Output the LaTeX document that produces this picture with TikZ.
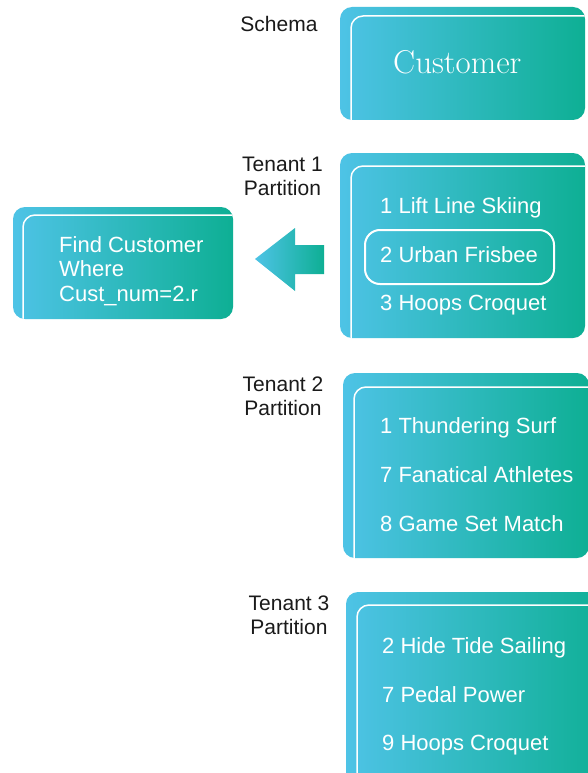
\documentclass[tikz,border=0pt]{standalone}
\usepackage{fontspec}
\setmainfont{Liberation Sans}
\newfontfamily\slabfont{Latin Modern Roman}
\definecolor{cblue}{RGB}{78,195,230}
\definecolor{cgreen}{RGB}{14,175,148}
\definecolor{ink}{RGB}{26,26,26}
\tikzset{
  grad/.style={left color=cblue, right color=cgreen},
  rim/.style={draw=white, line width=1.5pt, rounded corners=12pt},
  itemtext/.style={anchor=base west, inner sep=0pt, text=white,
    font=\fontsize{22}{24.5}\selectfont},
  sidelabel/.style={anchor=base, inner sep=0pt, align=center, text=ink,
    font=\fontsize{21}{23.5}\selectfont},
  pick/.style={draw=white, line width=2pt, rounded corners=15pt}
}
% gradient panel with an inset white rim, clipped to the panel
\newcommand\panel[6]{%
  \shade[grad, rounded corners=12pt] (#1,#2) rectangle (#3,#4);
  \begin{scope}
    \clip[rounded corners=12pt] (#1,#2) rectangle (#3,#4);
    \draw[rim] (#1+#5,#2+#6) rectangle (#3+40,#4+40);
  \end{scope}}
\begin{document}
\begin{tikzpicture}[x=1pt, y=-1pt]
  \clip (0,0) rectangle (588,773);
  \fill[white] (0,0) rectangle (588,773);

  % panels
  \panel{340}{7}{585}{120}{11}{9}
  \panel{340}{153}{585}{338}{11}{13}
  \panel{13}{207}{233}{319}{10}{8}
  \panel{343}{373}{589}{558}{11}{14}
  \panel{346}{592}{610}{800}{11}{13}

  % side labels (anchored on the last line's baseline)
  \node[sidelabel] (lschema) at (279,32) {Schema};
  \node[sidelabel] (lt1) at (282.5,195) {Tenant 1\\Partition};
  \node[sidelabel] (lt2) at (283,415) {Tenant 2\\Partition};
  \node[sidelabel] (lt3) at (289,634) {Tenant 3\\Partition};

  % schema
  \node[anchor=base west, inner sep=0pt, text=white,
        font=\slabfont\fontsize{33}{33}\selectfont] (cust) at (393,74) {Customer};

  % tenant 1
  \node[itemtext] (a1) at (380,213) {1 Lift Line Skiing};
  \node[itemtext] (a2) at (380,262) {2 Urban Frisbee};
  \node[itemtext] (a3) at (380,310) {3 Hoops Croquet};
  \draw[pick] (365,230) rectangle (554,284);

  % query panel and arrow
  \node[itemtext, align=left] (query) at (59,301) {Find Customer\\Where\\Cust\_num=2.r};
  \shade[grad] (255,259) -- (295,228) -- (295,245) -- (324,245) -- (324,274)
     -- (295,274) -- (295,291) -- cycle;

  % tenant 2
  \node[itemtext] (b1) at (380,433) {1 Thundering Surf};
  \node[itemtext] (b2) at (380,482) {7 Fanatical Athletes};
  \node[itemtext] (b3) at (380,531) {8 Game Set Match};

  % tenant 3
  \node[itemtext] (c1) at (382,653) {2 Hide Tide Sailing};
  \node[itemtext] (c2) at (382,702) {7 Pedal Power};
  \node[itemtext] (c3) at (382,750) {9 Hoops Croquet};
\end{tikzpicture}
\end{document}
